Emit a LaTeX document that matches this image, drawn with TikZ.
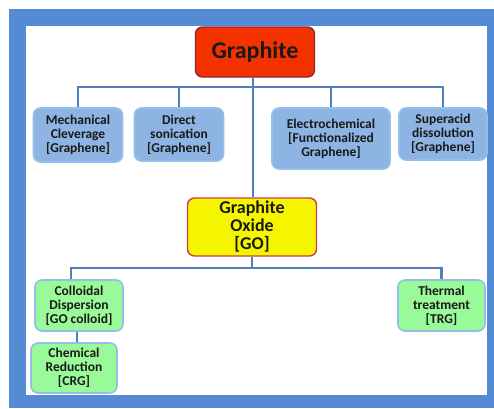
\documentclass[tikz,border=0pt]{standalone}
\usepackage{fontspec}
\setmainfont{Carlito}
\definecolor{frameblue}{RGB}{84,139,212}
\definecolor{linkblue}{RGB}{79,129,189}
\definecolor{boxblue}{RGB}{142,180,227}
\definecolor{boxedge}{RGB}{150,190,235}
\definecolor{boxgreen}{RGB}{153,250,153}
\definecolor{topred}{RGB}{243,50,0}
\definecolor{topedge}{RGB}{140,40,60}
\definecolor{goyellow}{RGB}{245,245,0}
\definecolor{goedge}{RGB}{200,60,80}
\definecolor{txt}{RGB}{25,25,25}
\tikzset{
  box/.style={rounded corners=7pt, draw=boxedge, line width=1.6pt, align=center,
    font=\bfseries\fontsize{13.5}{14}\selectfont, text=txt, inner sep=0pt},
  bluebox/.style={box, fill=boxblue},
  greenbox/.style={box, fill=boxgreen},
  link/.style={draw=linkblue, line width=2.6pt}
}
\begin{document}
\begin{tikzpicture}[x=1pt,y=-1pt]
\useasboundingbox (0,0) rectangle (494,408);
\fill[frameblue] (9,9) rectangle (494,408);
\fill[white] (26,26) rectangle (487,395);

\coordinate (b1) at (253,87);
\coordinate (b2) at (253,268);

\node[bluebox, minimum width=89pt, minimum height=54pt] (mech) at (78,135) {Mechanical\\Cleverage\\{[}Graphene{]}};
\node[bluebox, minimum width=89pt, minimum height=53pt] (direct) at (179,134.5) {Direct\\sonication\\{[}Graphene{]}};
\node[bluebox, minimum width=118pt, minimum height=61pt] (electro) at (331,138.5) {Electrochemical\\{[}Functionalized\\Graphene{]}};
\node[bluebox, minimum width=88pt, minimum height=52pt] (super) at (443,134) {Superacid\\dissolution\\{[}Graphene{]}};
\node[greenbox, minimum width=88pt, minimum height=51pt] (coll) at (79,305.5) {Colloidal\\Dispersion\\{[}GO colloid{]}};
\node[greenbox, minimum width=87pt, minimum height=51pt] (thermal) at (441.5,305.5) {Thermal\\treatment\\{[}TRG{]}};
\node[greenbox, minimum width=86pt, minimum height=50pt] (chem) at (74,368) {Chemical\\Reduction\\{[}CRG{]}};

\path[link] (mech.north) |- (b1) -| (super.north);
\path[link] (direct.north) -- (direct.north |- b1);
\path[link] (electro.north) -- (electro.north |- b1);
\path[link] ([xshift=-8pt]coll.north) |- (b2) -| (thermal.north);
\path[link] ([xshift=-2pt]coll.south) -- ([xshift=-2pt]coll.south |- chem.north);

\node[box, fill=topred, draw=topedge, line width=1.4pt, minimum width=119pt, minimum height=50pt,
  font=\bfseries\fontsize{24}{26}\selectfont] (graphite) at (255,52) {Graphite};
\node[box, fill=goyellow, draw=goedge, line width=1.4pt, minimum width=129pt, minimum height=58pt,
  font=\bfseries\fontsize{18}{18}\selectfont] (go) at (252,227) {Graphite\\Oxide\\{[}GO{]}};
\path[link] ([xshift=-2pt]graphite.south) -- ([xshift=-2pt]graphite.south |- go.north);
\path[link] (go.south) -- (go.south |- b2);
\end{tikzpicture}
\end{document}
